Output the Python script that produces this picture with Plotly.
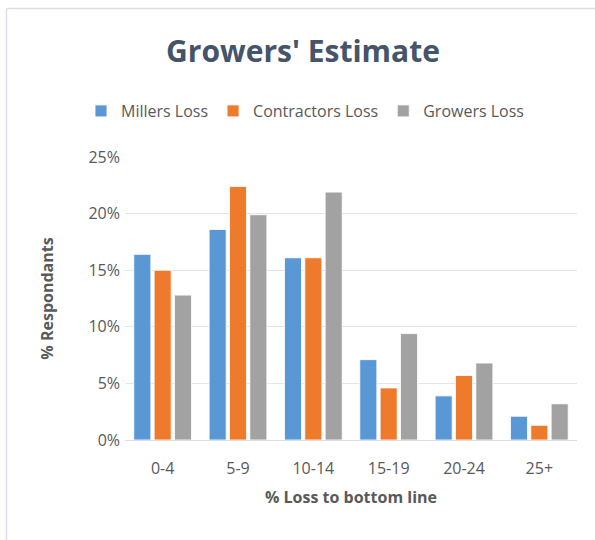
import plotly.graph_objects as go

# Survey responses: share of respondents per loss bracket
categories = ["0-4", "5-9", "10-14", "15-19", "20-24", "25+"]
millers_loss = [16.4, 18.6, 16.1, 7.1, 3.9, 2.1]
contractors_loss = [15.0, 22.4, 16.1, 4.6, 5.7, 1.3]
growers_loss = [12.8, 19.9, 21.9, 9.4, 6.8, 3.2]
y_ticks = [0, 5, 10, 15, 20, 25]
y_tick_labels = ["0%", "5%", "10%", "15%", "20%", "25%"]

series = [
    ("Millers Loss", millers_loss, "#5A98D5"),
    ("Contractors Loss", contractors_loss, "#EE7B2C"),
    ("Growers Loss", growers_loss, "#A2A2A2"),
]

W, H = 595, 540
L, R, T, B = 125, 18, 157, 100

fig = go.Figure()
for name, vals, color in series:
    fig.add_trace(go.Bar(
        name=name, x=categories, y=vals,
        marker=dict(color=color, line=dict(color="rgba(255,255,255,0.85)", width=1)),
    ))

text_color = "#595959"
font_family = "Open Sans, Liberation Sans, sans-serif"


def px_x(px):
    return (px - L) / (W - L - R)


def px_y(py):
    return (H - B - py) / (H - T - B)


fig.update_layout(
    width=W, height=H,
    margin=dict(l=L, r=R, t=T, b=B),
    paper_bgcolor="white", plot_bgcolor="white",
    barmode="group", bargap=0.19, bargroupgap=0.16,
    font=dict(family=font_family, color=text_color, size=16),
    title=dict(
        text="<b>Growers' Estimate</b>",
        x=303 / W, xanchor="center", y=1 - 51 / H, yanchor="middle",
        font=dict(size=30, color="#44546A", family=font_family),
    ),
    legend=dict(
        orientation="h", x=px_x(305), xanchor="center", y=px_y(111), yanchor="middle",
        font=dict(size=16, color=text_color), itemwidth=30,
        traceorder="normal",
    ),
    xaxis=dict(
        showgrid=False, showline=True, linecolor="#D9DEE6", linewidth=1,
        ticks="", tickfont=dict(size=16, color=text_color), ticklabelstandoff=14,
        title=dict(text="<b>% Loss to bottom line</b>", font=dict(size=16, color=text_color), standoff=13),
    ),
    yaxis=dict(
        range=[0, 25], tickvals=y_ticks, ticktext=y_tick_labels,
        showgrid=True, gridcolor="#E1E6EE", gridwidth=1, zeroline=False,
        ticks="", tickfont=dict(size=16, color=text_color), ticklabelstandoff=4,
        title=dict(text="<b>% Respondants</b>", font=dict(size=16, color=text_color), standoff=30),
    ),
    shapes=[
        dict(type="line", xref="paper", yref="paper",
             x0=px_x(6.5), x1=px_x(600), y0=px_y(8.5), y1=px_y(8.5),
             line=dict(color="#D9DEE6", width=1.5)),
        dict(type="line", xref="paper", yref="paper",
             x0=px_x(6.5), x1=px_x(6.5), y0=px_y(8.5), y1=px_y(545),
             line=dict(color="#D9DEE6", width=1.5)),
    ],
)

fig.write_html("out.html")
